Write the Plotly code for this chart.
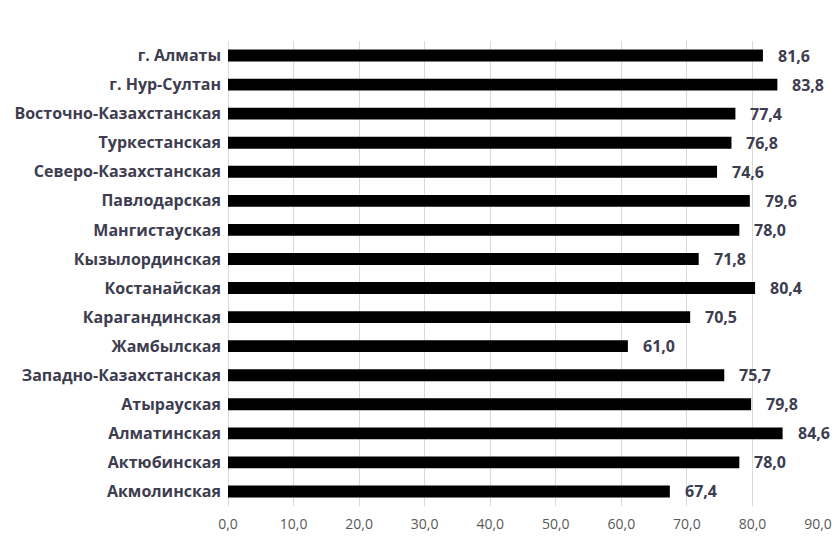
import plotly.graph_objects as go

regions = [
    "г. Алматы", "г. Нур-Султан", "Восточно-Казахстанская", "Туркестанская",
    "Северо-Казахстанская", "Павлодарская", "Мангистауская", "Кызылординская",
    "Костанайская", "Карагандинская", "Жамбылская", "Западно-Казахстанская",
    "Атырауская", "Алматинская", "Актюбинская", "Акмолинская",
]
values = [81.6, 83.8, 77.4, 76.8, 74.6, 79.6, 78.0, 71.8,
          80.4, 70.5, 61.0, 75.7, 79.8, 84.6, 78.0, 67.4]
x_ticks = [0, 10, 20, 30, 40, 50, 60, 70, 80, 90]

FONT = "'Open Sans', Roboto, sans-serif"
TEXT_COLOR = "#3d3d4f"

fig = go.Figure(go.Bar(
    x=values,
    y=regions,
    orientation="h",
    marker=dict(color="#000000", line=dict(width=0)),
    width=0.41,
))

# value labels to the right of each bar
for r, v in zip(regions, values):
    fig.add_annotation(
        x=v, y=r, text="<b>" + f"{v:.1f}".replace(".", ",") + "</b>",
        showarrow=False, xanchor="left", yanchor="middle", xshift=13, yshift=0,
        font=dict(family=FONT, size=16, color=TEXT_COLOR),
    )

fig.update_layout(
    width=836, height=536,
    margin=dict(l=228, r=18, t=41, b=30),
    paper_bgcolor="white", plot_bgcolor="white",
    showlegend=False,
    separators=", ",
)
fig.update_xaxes(
    range=[0, 90], tickvals=x_ticks, tickformat=".1f", automargin=False,
    showgrid=True, gridcolor="#d9d9d9", gridwidth=1,
    zeroline=True, zerolinecolor="#d9d9d9", zerolinewidth=1,
    showline=False, ticks="", ticklen=0, ticklabelstandoff=8,
    tickfont=dict(family=FONT, size=14, color="#595959"),
)
fig.update_yaxes(
    categoryorder="array", categoryarray=regions[::-1], automargin=False,
    showgrid=False, showline=False, ticks="", ticklabelstandoff=6,
    tickfont=dict(family=FONT, size=16, color=TEXT_COLOR, weight="bold"),
)

fig.write_html("out.html")
